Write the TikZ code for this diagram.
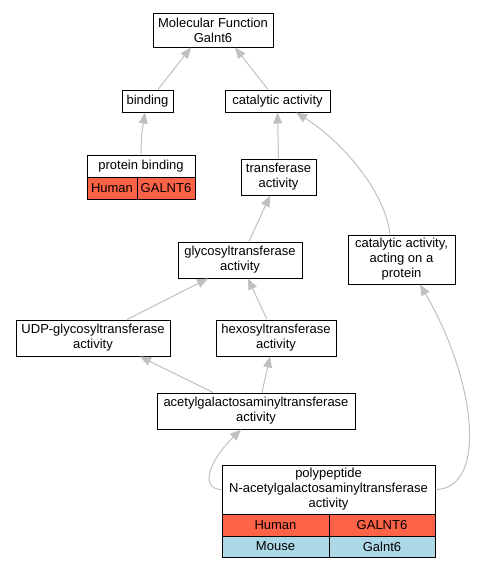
\documentclass[tikz,border=0pt]{standalone}
\usepackage{fontspec}
\setmainfont{Liberation Sans}
\usetikzlibrary{arrows.meta}
\definecolor{edgec}{RGB}{192,192,192}
\definecolor{human}{RGB}{255,99,71}
\definecolor{mouse}{RGB}{173,216,230}
\begin{document}
\begin{tikzpicture}[x=1pt,y=-1pt,
  box/.style={draw=black,line width=1pt,fill=white,inner sep=0pt,align=center,font=\fontsize{13}{15}\selectfont},
  humancell/.style={box,fill=human},
  mousecell/.style={box,fill=mouse},
  edge/.style={draw=edgec,line width=1pt,-{Triangle[length=11pt,width=9pt]}}]
\useasboundingbox (0,0) rectangle (479,568);
\node[box,minimum width=120pt,minimum height=34pt] (mf) at (213,30) {Molecular Function\\Galnt6};
\node[box,minimum width=51pt,minimum height=22pt] (binding) at (147.5,101) {binding};
\node[box,minimum width=105pt,minimum height=22pt] (cat) at (277.5,101) {catalytic activity};
\node[box,minimum width=108pt,minimum height=22pt] (pb) at (141,166) {protein binding};
\node[humancell,minimum width=50pt,minimum height=22pt] (pbh) at (112,188) {Human};
\node[humancell,minimum width=58pt,minimum height=22pt] (pbg) at (166,188) {GALNT6};
\node[box,minimum width=75pt,minimum height=36pt] (trans) at (278.5,177) {transferase\\activity};
\node[box,minimum width=124pt,minimum height=36pt] (glyco) at (240,260) {glycosyltransferase\\activity};
\node[box,minimum width=107pt,minimum height=49pt] (catprot) at (401.5,259.5) {catalytic activity,\\acting on a\\protein};
\node[box,minimum width=154pt,minimum height=36pt] (udp) at (93,338) {UDP-glycosyltransferase\\activity};
\node[box,minimum width=120pt,minimum height=36pt] (hexo) at (276,338) {hexosyltransferase\\activity};
\node[box,minimum width=198pt,minimum height=36pt] (acetyl) at (256,411) {acetylgalactosaminyltransferase\\activity};
\node[box,minimum width=213pt,minimum height=49pt] (poly) at (328.5,489.5) {polypeptide\\N-acetylgalactosaminyltransferase\\activity};
\node[humancell,minimum width=107pt,minimum height=22pt] (polyh1) at (275.5,525) {Human};
\node[humancell,minimum width=106pt,minimum height=22pt] (polyg1) at (382,525) {GALNT6};
\node[mousecell,minimum width=107pt,minimum height=21pt] (polyh2) at (275.5,546.5) {Mouse};
\node[mousecell,minimum width=106pt,minimum height=21pt] (polyg2) at (382,546.5) {Galnt6};
% edges
\draw[edge] ([xshift=10.5pt]binding.north) -- ([xshift=-22pt]mf.south);
\draw[edge] ([xshift=-9.5pt]cat.north) -- ([xshift=22pt]mf.south);
\draw[edge] (pb.north) .. controls (141.5,135) .. ([xshift=-2.5pt]binding.south);
\draw[edge] (trans.north) -- (cat.south);
\draw[edge] ([xshift=9pt]glyco.north) -- ([xshift=-8.5pt]trans.south);
\draw[edge] ([xshift=34pt]udp.north) -- ([xshift=-32pt]glyco.south);
\draw[edge] ([xshift=-9pt]hexo.north) -- ([xshift=8pt]glyco.south);
\draw[edge] ([xshift=-43pt]acetyl.north) -- ([xshift=47pt]udp.south);
\draw[edge] ([xshift=6pt]acetyl.north) -- ([xshift=-6pt]hexo.south);
\draw[edge] ([xshift=-11.5pt]catprot.north) .. controls (385,190) and (340,140) .. ([xshift=18.5pt]cat.south);
\draw[edge] (poly.west) .. controls (200,489) and (208,462) .. ([xshift=-15pt]acetyl.south);
\draw[edge] (poly.east) .. controls (488,489) and (476,380) .. ([xshift=18.5pt]catprot.south);
\end{tikzpicture}
\end{document}
